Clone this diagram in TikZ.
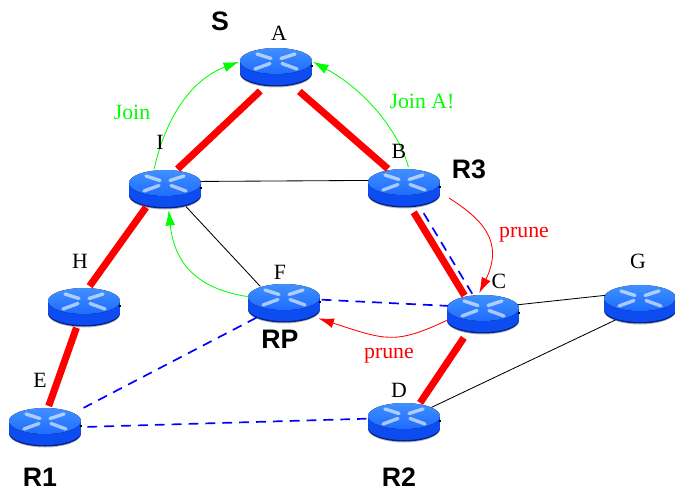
\documentclass[tikz,border=0pt]{standalone}
\usepackage{fontspec}
\setmainfont{Liberation Serif}
\newfontfamily\boldsans[BoldFont={Liberation Sans Bold}]{Liberation Sans}
\usetikzlibrary{arrows.meta, shapes.geometric}
\definecolor{routertop}{HTML}{4090FF}
\definecolor{routermid}{HTML}{1E6CFF}
\definecolor{routerside}{HTML}{0C4CF0}
\definecolor{routerlow}{HTML}{06238C}
\definecolor{joingreen}{HTML}{00FF00}
\begin{document}
\begin{tikzpicture}[x=0.025cm, y=-0.025cm]
\tikzset{ >={Latex[length=11pt,width=7pt]},
  routerbox/.style={ellipse, inner sep=0pt, outer sep=1.5pt, minimum width=1.8cm, minimum height=0.95cm},
  treelink/.style={red, line width=5pt},
  shared/.style={blue, line width=1.2pt, dash pattern=on 7pt off 5pt},
  plainlink/.style={black, line width=0.6pt},
  joinpath/.style={->, joingreen, line width=0.6pt},
  prunepath/.style={->, red, line width=0.6pt},
  letter/.style={font=\fontsize{15.5}{16}\selectfont},
  role/.style={font=\fontsize{19}{20}\selectfont\boldsans\bfseries},
  router/.pic={
    \fill [black, opacity=0.25] (0,7) ellipse [x radius=36, y radius=13.5];
    \fill [routerlow] (0,6.5) ellipse [x radius=36, y radius=13];
    \fill [routerside] (-36,-6) rectangle (36,5);
    \fill [routerside] (0,5) ellipse [x radius=36, y radius=13];
    \fill [top color=routertop, bottom color=routermid] (0,-6) ellipse [x radius=36, y radius=13];
    \draw [white, opacity=0.6, line width=2.4pt, line cap=round]
      (-19,-13) -- (-5,-8.5) (19,-13) -- (5,-8.5) (-21,2) -- (-6,-3.5) (21,2) -- (6,-3.5);
    \draw [black, line width=0.8pt] (35,-1) -- (37,-1);
  },
}
\useasboundingbox (0,0) rectangle (675,492);

\foreach \name/\x/\y in {A/276/67, I/165/189, B/404/188, F/284/303, C/483/314, G/640/304, H/84/307, E/45/427, D/404/422} {
  \node [routerbox] (\name) at (\x,\y) {};
  \pic at (\x,\y) {router};
}
\coordinate (pruneB) at (449,198);

\draw [treelink, shorten <=4pt] (A.-120) -- (I.58);
\draw [treelink, shorten <=6pt] (A.-48) -- (B.130);
\draw [treelink] (I.-136) -- (H.75);
\draw [treelink] (H.-110) -- (E.80);
\draw [treelink, shorten <=3pt] (B.-70) -- (C.135);
\draw [treelink, shorten <=4pt] (C.-130) -- (D.50);

\draw [plainlink] (I.12) -- (B.168);
\draw [plainlink] (I.-40) -- (F.145);
\draw [plainlink] (C.15) -- (G.166);
\draw [plainlink] (D.28) -- (G.-147);

\draw [shared, shorten <=5pt] (B.-50) -- (C.118);
\draw [shared] (F.5) -- (C.167);
\draw [shared, shorten >=8pt] (F.-152) -- (E.26);
\draw [shared, shorten <=3pt] (E.0) -- (D.175);

\draw [joinpath] (I.118) .. controls (165,120) and (190,80) .. (A.172);
\draw [joinpath] (B.78) .. controls (398,130) and (365,90) .. (A.8);
\draw [joinpath] (F.170) .. controls (205,290) and (175,270) .. (I.-80);
\draw [prunepath] (pruneB) .. controls (480,218) and (505,240) .. (C.100);
\draw [prunepath, shorten >=4pt] (C.190) .. controls (395,345) and (385,340) .. (F.-25);

\node [letter] (lblA) at (279,33) {A};
\node [letter] (lblI) at (160,142) {I};
\node [letter] (lblB) at (399,151) {B};
\node [letter] (lblH) at (80,261) {H};
\node [letter] (lblF) at (280,272) {F};
\node [letter] (lblC) at (499,281) {C};
\node [letter] (lblG) at (638,261) {G};
\node [letter] (lblE) at (40,380) {E};
\node [letter] (lblD) at (399,390) {D};

\node [letter, joingreen] (lblJoin) at (132,112) {Join};
\node [letter, joingreen] (lblJoinA) at (422,101) {Join A!};
\node [letter, red] (lblPruneC) at (524,235) {prune};
\node [letter, red] (lblPruneF) at (389,356) {prune};

\node [role] (lblS) at (220,21) {S};
\node [role] (lblR3) at (469,169) {R3};
\node [role] (lblRP) at (280,339) {RP};
\node [role] (lblR1) at (40,477) {R1};
\node [role] (lblR2) at (399,477) {R2};

\end{tikzpicture}
\end{document}
